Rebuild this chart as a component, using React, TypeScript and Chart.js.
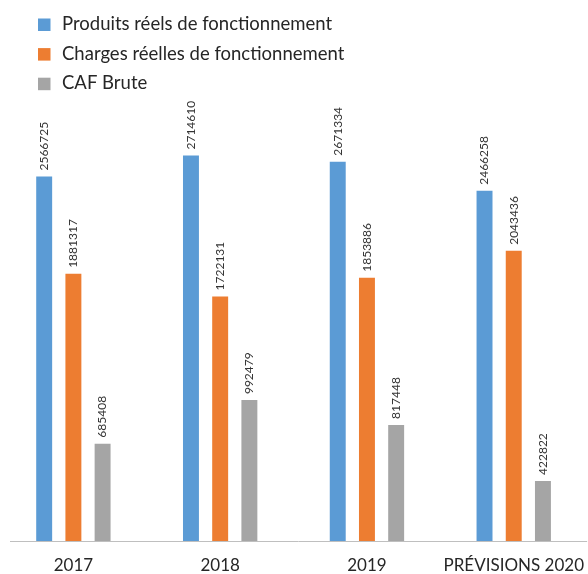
import React, { useEffect, useRef } from "react";
import { Chart, registerables } from "chart.js";

Chart.register(...registerables);

const categories = ["2017", "2018", "2019", "PRÉVISIONS 2020"];
const seriesNames = [
  "Produits réels de fonctionnement",
  "Charges réelles de fonctionnement",
  "CAF Brute",
];
const produits = [2566725, 2714610, 2671334, 2466258];
const charges = [1881317, 1722131, 1853886, 2043436];
const caf = [685408, 992479, 817448, 422822];
const colors = ["#5B9BD5", "#ED7D31", "#A5A5A5"];

const FONT = "Lato, 'Noto Sans', sans-serif";

const valueLabels = {
  id: "valueLabels",
  afterDatasetsDraw(chart: any) {
    const ctx = chart.ctx;
    ctx.save();
    ctx.font = `12px ${FONT}`;
    ctx.fillStyle = "#333333";
    ctx.textAlign = "left";
    ctx.textBaseline = "middle";
    chart.data.datasets.forEach((ds: any, di: number) => {
      const meta = chart.getDatasetMeta(di);
      meta.data.forEach((el: any, i: number) => {
        ctx.save();
        ctx.translate(el.x, el.y - 6);
        ctx.rotate(-Math.PI / 2);
        ctx.fillText(String(ds.data[i]), 0, 0);
        ctx.restore();
      });
    });
    ctx.restore();
  },
};

const axisLine = {
  id: "axisLine",
  beforeDatasetsDraw(chart: any) {
    const { ctx, chartArea } = chart;
    ctx.save();
    ctx.strokeStyle = "#BFBFBF";
    ctx.lineWidth = 1;
    ctx.beginPath();
    ctx.moveTo(10, Math.round(chartArea.bottom) + 0.5);
    ctx.lineTo(chartArea.right, Math.round(chartArea.bottom) + 0.5);
    ctx.stroke();
    ctx.restore();
  },
};

const customLegend = {
  id: "customLegend",
  afterDraw(chart: any) {
    const ctx = chart.ctx;
    ctx.save();
    ctx.font = `18.5px ${FONT}`;
    ctx.textAlign = "left";
    ctx.textBaseline = "alphabetic";
    chart.data.datasets.forEach((ds: any, i: number) => {
      const base = 30 + i * 29.6;
      ctx.fillStyle = ds.backgroundColor;
      ctx.fillRect(38, base - 11.5, 12.5, 12.5);
      ctx.fillStyle = "#262626";
      ctx.fillText(ds.label, 62, base);
    });
    ctx.restore();
  },
};

export default function App() {
  const ref = useRef<HTMLCanvasElement>(null);
  useEffect(() => {
    if (!ref.current) return;
    const chart = new Chart(ref.current, {
      type: "bar",
      data: {
        labels: categories,
        datasets: [produits, charges, caf].map((d, i) => ({
          label: seriesNames[i],
          data: d,
          backgroundColor: colors[i],
          categoryPercentage: 0.597,
          barPercentage: 0.546,
        })),
      },
      options: {
        animation: false,
        responsive: false,
        layout: { padding: { top: 115, left: 0, right: 0, bottom: 0 } },
        plugins: {
          legend: { display: false },
          tooltip: { enabled: false },
        },
        scales: {
          x: {
            grid: { display: false },
            border: { display: false },
            ticks: {
              font: { family: FONT, size: 17 },
              color: "#262626",
              padding: 6,
              maxRotation: 0,
              autoSkip: false,
            },
            afterFit: (scale: any) => {
              scale.height = 33;
            },
          },
          y: {
            display: false,
            min: 0,
            max: 3000000,
          },
        },
      },
      plugins: [axisLine, valueLabels, customLegend],
    });
    return () => chart.destroy();
  }, []);
  return (
    <div
      style={{
        position: "fixed",
        left: 0,
        top: 0,
        width: 588,
        height: 574,
        overflow: "hidden",
      }}
    >
      <canvas ref={ref} width={590} height={574} style={{ display: "block" }} />
    </div>
  );
}
